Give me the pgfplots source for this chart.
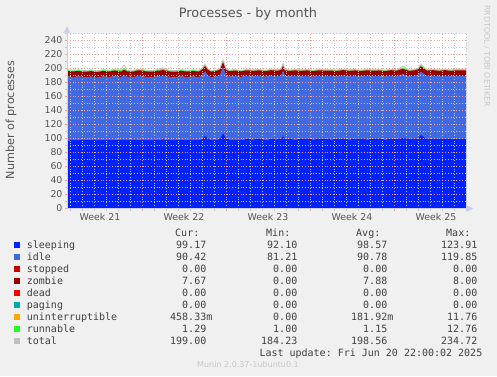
\documentclass[border=0pt]{standalone}
\usepackage{pgfplots}
\usepackage{pgfplotstable}
\pgfplotsset{compat=1.18}
\usepackage{fontspec}
\setmainfont{DejaVu Sans}
\newfontfamily\mono{DejaVu Sans Mono}
\usetikzlibrary{arrows.meta}
\definecolor{bg}{HTML}{F0F0F0}
\definecolor{csleep}{HTML}{0022FF}
\definecolor{cidle}{HTML}{4169E1}
\definecolor{cstop}{HTML}{CC0000}
\definecolor{czomb}{HTML}{990000}
\definecolor{cdead}{HTML}{FF0000}
\definecolor{cpag}{HTML}{00AAAA}
\definecolor{cunint}{HTML}{FFA500}
\definecolor{crun}{HTML}{22FF22}
\definecolor{ctot}{HTML}{C0C0C0}
\definecolor{ctxt}{HTML}{555555}
\definecolor{cleg}{HTML}{404040}
\definecolor{cfaint}{HTML}{C8C8C8}
\definecolor{caxis}{HTML}{C8CCF0}
\definecolor{cmaj}{HTML}{F4A0A0}
\definecolor{cmin}{HTML}{C8C8C8}

\pgfplotstableread{
x s i st z d p u r t
0.0 97.4 91.2 0 7.9 0 0 0.2 1.1 198.3
0.5 97.6 90.4 0 7.9 0 0 0.1 1.2 197.6
1.0 97.5 91.0 0 7.9 0 0 0.2 1.1 198.2
1.5 97.8 89.6 0 7.8 0 0 0.1 1.2 197.0
2.0 97.6 90.8 0 7.9 0 0 0.2 1.1 198.1
2.5 97.5 89.2 0 7.9 0 0 0.3 1.2 196.6
3.0 97.7 90.9 0 7.9 0 0 0.2 1.1 198.3
3.5 97.6 90.1 0 7.9 0 0 0.1 1.3 197.5
4.0 97.8 91.3 0 7.9 0 0 0.2 1.1 198.8
4.5 97.7 90.0 0 7.9 0 0 0.4 1.4 199.0
4.75 98.2 92.0 0 7.9 0 0 0.8 2.0 205.0
5.0 97.6 90.5 0 7.9 0 0 0.2 1.1 197.8
5.5 97.7 89.8 0 7.9 0 0 0.2 1.2 197.3
6.0 98.4 91.2 0 7.9 0 0 0.2 1.1 199.3
6.5 97.6 90.6 0 7.9 0 0 0.2 1.1 197.9
7.0 97.7 89.7 0 7.9 0 0 0.1 1.2 197.1
7.5 97.6 91.0 0 7.9 0 0 0.2 1.1 198.3
8.0 99.0 90.8 0 7.9 0 0 0.3 1.4 201.0
8.5 97.8 90.2 0 7.9 0 0 0.2 1.1 197.7
9.0 97.7 89.4 0 7.9 0 0 0.2 1.2 196.9
9.5 97.8 90.9 0 7.9 0 0 0.1 1.1 198.3
10.0 97.6 90.1 0 7.9 0 0 0.2 1.2 197.5
10.5 97.7 90.8 0 7.9 0 0 0.2 1.1 198.2
11.0 97.8 89.9 0 7.9 0 0 0.2 1.1 197.4
11.25 99.5 91.0 0 7.9 0 0 0.3 1.3 200.0
11.5 104.0 91.5 0 7.9 0 0 0.6 1.6 206.0
11.75 99.8 90.2 0 7.9 0 0 0.3 1.2 199.4
12.0 98.0 89.6 0 7.9 0 0 0.2 1.1 197.3
12.5 98.2 90.6 0 7.9 0 0 0.2 1.1 198.0
12.75 99.5 91.0 0 7.9 0 0 0.3 1.3 200.0
13.0 108.0 93.5 0 7.9 0 0 0.8 2.0 212.0
13.25 100.5 90.0 0 7.9 0 0 0.3 1.3 200.0
13.5 98.8 89.4 0 7.9 0 0 0.2 1.1 197.4
14.0 98.9 90.3 0 7.9 0 0 0.2 1.1 198.4
14.5 98.8 89.2 0 7.9 0 0 0.1 1.2 197.2
15.0 99.0 90.6 0 7.9 0 0 0.2 1.1 198.8
15.5 98.9 89.8 0 7.9 0 0 0.2 1.1 197.9
16.0 99.1 90.4 0 7.9 0 0 0.1 1.2 198.7
16.5 98.8 89.4 0 7.9 0 0 0.2 1.1 197.4
17.0 99.0 90.7 0 7.9 0 0 0.2 1.1 198.9
17.5 98.9 89.9 0 7.9 0 0 0.2 1.2 198.1
17.85 99.5 90.5 0 7.9 0 0 0.3 1.2 199.5
18.0 104.5 92.0 0 7.9 0 0 0.6 1.8 207.5
18.15 99.6 90.0 0 7.9 0 0 0.3 1.2 199.0
18.5 99.0 89.6 0 7.9 0 0 0.2 1.1 197.8
19.0 98.9 90.5 0 7.9 0 0 0.2 1.1 198.6
19.5 99.0 89.7 0 7.9 0 0 0.2 1.2 198.0
20.0 99.1 90.3 0 7.9 0 0 0.1 1.1 198.5
20.5 98.9 89.3 0 7.9 0 0 0.2 1.2 197.5
21.0 99.0 90.6 0 7.9 0 0 0.2 1.1 198.8
21.5 99.1 89.9 0 7.9 0 0 0.2 1.1 198.2
22.0 98.9 90.2 0 7.9 0 0 0.1 1.2 198.3
22.5 99.0 89.5 0 7.9 0 0 0.2 1.1 197.7
23.0 99.1 90.7 0 7.9 0 0 0.2 1.1 199.0
23.5 98.9 89.8 0 7.9 0 0 0.2 1.2 198.0
24.0 99.0 90.4 0 7.9 0 0 0.2 1.1 198.6
24.5 99.1 89.4 0 7.9 0 0 0.1 1.1 197.6
25.0 98.9 90.6 0 7.9 0 0 0.2 1.2 198.8
25.5 99.0 89.9 0 7.9 0 0 0.2 1.1 198.1
26.0 99.1 90.2 0 7.9 0 0 0.2 1.1 198.5
26.5 98.9 89.5 0 7.9 0 0 0.1 1.2 197.6
27.0 99.0 90.7 0 7.9 0 0 0.2 1.1 198.9
27.5 99.1 89.8 0 7.9 0 0 0.2 1.1 198.1
28.0 101.5 90.2 0 7.9 0 0 0.4 1.5 203.5
28.5 99.0 89.6 0 7.9 0 0 0.2 1.1 197.8
29.0 99.2 90.4 0 7.9 0 0 0.2 1.2 198.9
29.25 100.5 90.5 0 7.9 0 0 0.3 1.3 200.5
29.5 105.5 89.5 0 7.9 0 0 0.6 1.7 206.0
29.75 102.0 89.8 0 7.9 0 0 0.3 1.3 201.5
30.0 99.3 89.8 0 7.9 0 0 0.2 1.1 198.3
30.5 99.1 90.6 0 7.9 0 0 0.2 1.1 198.9
31.0 99.0 89.7 0 7.9 0 0 0.2 1.2 198.0
31.5 99.2 90.5 0 7.9 0 0 0.1 1.1 198.8
32.0 99.1 89.6 0 7.9 0 0 0.2 1.1 197.9
32.5 99.2 90.4 0 7.9 0 0 0.2 1.2 198.9
33.0 99.2 90.4 0 7.7 0 0 0.5 1.3 199.0
33.25 99.2 90.4 0 7.7 0 0 0.5 1.3 199.0
}\proc

\pgfplotsset{
  basegeom/.style={
    at={(67pt,167.5pt)}, anchor=south west,
    scale only axis, width=399pt, height=175pt,
    xmin=0, xmax=33.25, ymin=0, ymax=250,
  }
}

\begin{document}
\begin{tikzpicture}
\fill[bg] (0,0) rectangle (497pt,376pt);
\useasboundingbox (0,0) rectangle (497pt,376pt);

\begin{axis}[basegeom,
  axis background/.style={fill=white},
  stack plots=y,
  axis on top,
  axis lines=left,
  axis line style={draw=caxis, line width=0.8pt, -{Triangle[width=6pt,length=6pt]}, shorten >=-7pt},
  xtick={6.25,13.25,20.25,27.25},
  xticklabels={},
  minor xtick={0.25,1.25,...,33.25},
  ytick={0,20,...,240},
  minor ytick={10,30,...,250},
  grid=both,
  major grid style={dash pattern=on 0.8pt off 2pt, draw=cmaj, line width=0.6pt},
  minor grid style={dash pattern=on 0.8pt off 2pt, draw=cmin, line width=0.6pt},
  tick align=outside,
  major tick length=2pt, minor tick length=2pt,
  major tick style={draw=cmaj, line width=0.6pt},
  minor tick style={draw=cmin, line width=0.6pt},
  extra x ticks={2.75,9.75,16.75,23.75,30.75},
  extra x tick labels={Week 21,Week 22,Week 23,Week 24,Week 25},
  extra x tick style={grid=none, major tick length=0pt},
  /pgf/number format/assume math mode=true,
  ticklabel style={font=\fontsize{9.4}{11}\selectfont, text=ctxt},
  xticklabel style={yshift=-1pt},
  yticklabel style={xshift=1pt},
]
\addplot[draw=none, fill=csleep] table[x=x,y=s]{\proc} \closedcycle;
\addplot[draw=none, fill=cidle] table[x=x,y=i]{\proc} \closedcycle;
\addplot[draw=none, fill=cstop] table[x=x,y=st]{\proc} \closedcycle;
\addplot[draw=none, fill=czomb] table[x=x,y=z]{\proc} \closedcycle;
\addplot[draw=none, fill=cdead] table[x=x,y=d]{\proc} \closedcycle;
\addplot[draw=none, fill=cpag] table[x=x,y=p]{\proc} \closedcycle;
\addplot[draw=none, fill=cunint] table[x=x,y=u]{\proc} \closedcycle;
\addplot[draw=none, fill=crun] table[x=x,y=r]{\proc} \closedcycle;
\end{axis}

\begin{axis}[basegeom, hide axis]
\addplot[ctot, line width=0.8pt] table[x=x,y=t]{\proc};
\end{axis}

% title and side texts
\node[text=ctxt, font=\fontsize{12.9}{15}\selectfont] at (248pt,362pt) {Processes - by month};
\node[text=ctxt, rotate=90, font=\fontsize{11.2}{13}\selectfont] at (11pt,256pt) {Number of processes};
\node[text=cfaint, rotate=-90, font=\fontsize{7.9}{9}\selectfont] at (487pt,320pt) {RRDTOOL / TOBI OETIKER};
\node[text=cfaint, font=\fontsize{8}{10}\selectfont] at (248pt,11pt) {Munin 2.0.37-1ubuntu0.1};

% legend
\begin{scope}[every node/.style={inner sep=0pt, text=cleg, font=\mono\frenchspacing\fontsize{10}{12}\selectfont}]
\node[anchor=base east] at (199.5pt,{376pt-236.2pt}) {Cur:};
\node[anchor=base east] at (290.5pt,{376pt-236.2pt}) {Min:};
\node[anchor=base east] at (380.5pt,{376pt-236.2pt}) {Avg:};
\node[anchor=base east] at (470.5pt,{376pt-236.2pt}) {Max:};
\foreach \k/\c/\n/\va/\vb/\vc/\vd in {
 0/csleep/sleeping/99.17/92.10/98.57/123.91,
 1/cidle/idle/90.42/81.21/90.78/119.85,
 2/cstop/stopped/0.00/0.00/0.00/0.00,
 3/czomb/zombie/7.67/0.00/7.88/8.00,
 4/cdead/dead/0.00/0.00/0.00/0.00,
 5/cpag/paging/0.00/0.00/0.00/0.00,
 6/cunint/uninterruptible/458.33\rlap{m}/0.00/181.92\rlap{m}/11.76,
 7/crun/runnable/1.29/1.00/1.15/12.76,
 8/ctot/total/199.00/184.23/198.56/234.72}{
  \pgfmathsetmacro{\yc}{376-244.5-12*\k}
  \fill[\c] (14pt,\yc pt-3pt) rectangle (20pt,\yc pt+3pt);
  \node[anchor=base west] at (26.7pt,\yc pt-3.6pt) {\n};
  \node[anchor=base east] at (206.5pt,\yc pt-3.6pt) {\va};
  \node[anchor=base east] at (297.5pt,\yc pt-3.6pt) {\vb};
  \node[anchor=base east] at (387.5pt,\yc pt-3.6pt) {\vc};
  \node[anchor=base east] at (477.5pt,\yc pt-3.6pt) {\vd};
}
\node[anchor=base east] at (482.5pt,{376pt-352.7pt-3.6pt}) {Last update: Fri Jun 20 22:00:02 2025};
\end{scope}
\end{tikzpicture}
\end{document}
